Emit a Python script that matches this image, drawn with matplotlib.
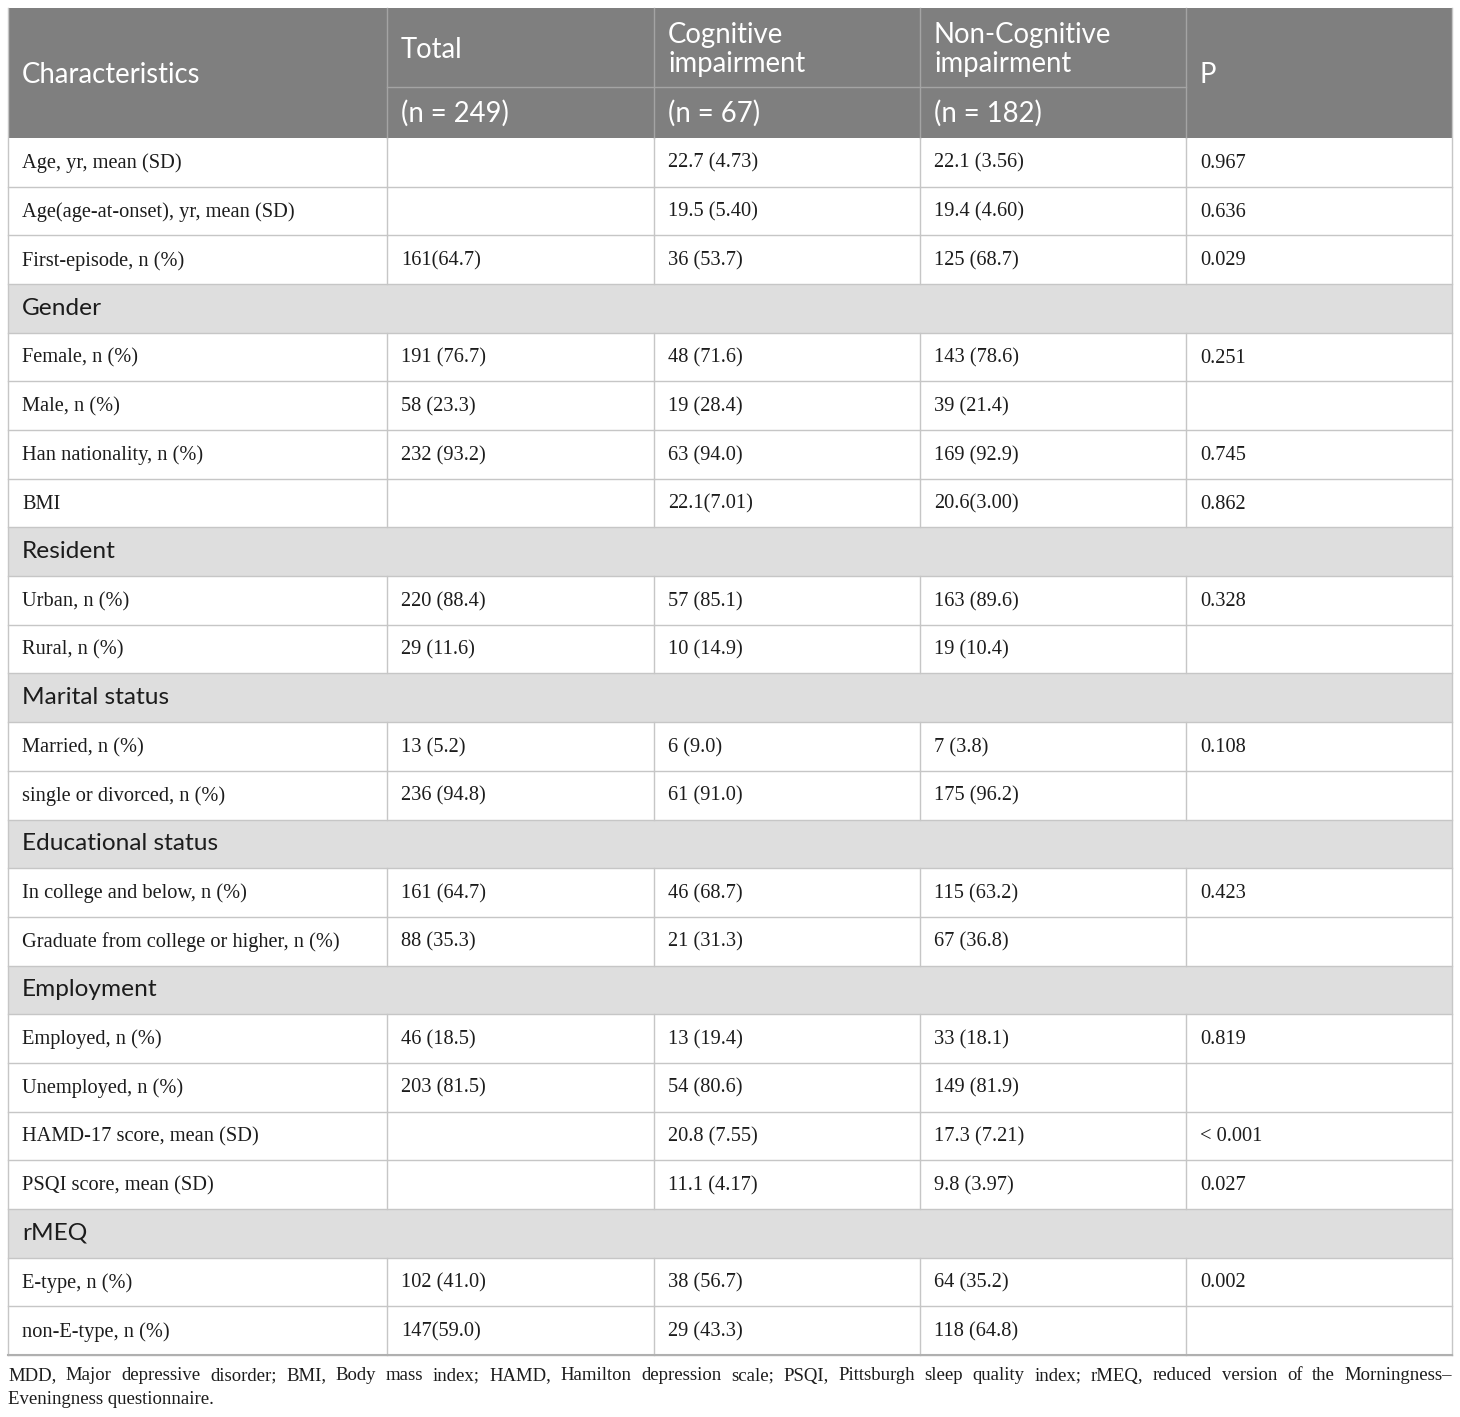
import matplotlib
matplotlib.use("Agg")
import matplotlib.pyplot as plt

# table contents
headers = ["Characteristics", "Total", "Cognitive\nimpairment", "Non-Cognitive\nimpairment", "P"]
header_n = ["", "(n = 249)", "(n = 67)", "(n = 182)", ""]

# None in the value columns marks a section row
rows = [
    ["Age, yr, mean (SD)", "", "22.7 (4.73)", "22.1 (3.56)", "0.967"],
    ["Age(age-at-onset), yr, mean (SD)", "", "19.5 (5.40)", "19.4 (4.60)", "0.636"],
    ["First-episode, n (%)", "161(64.7)", "36 (53.7)", "125 (68.7)", "0.029"],
    ["Gender", None, None, None, None],
    ["Female, n (%)", "191 (76.7)", "48 (71.6)", "143 (78.6)", "0.251"],
    ["Male, n (%)", "58 (23.3)", "19 (28.4)", "39 (21.4)", ""],
    ["Han nationality, n (%)", "232 (93.2)", "63 (94.0)", "169 (92.9)", "0.745"],
    ["BMI", "", "22.1(7.01)", "20.6(3.00)", "0.862"],
    ["Resident", None, None, None, None],
    ["Urban, n (%)", "220 (88.4)", "57 (85.1)", "163 (89.6)", "0.328"],
    ["Rural, n (%)", "29 (11.6)", "10 (14.9)", "19 (10.4)", ""],
    ["Marital status", None, None, None, None],
    ["Married, n (%)", "13 (5.2)", "6 (9.0)", "7 (3.8)", "0.108"],
    ["single or divorced, n (%)", "236 (94.8)", "61 (91.0)", "175 (96.2)", ""],
    ["Educational status", None, None, None, None],
    ["In college and below, n (%)", "161 (64.7)", "46 (68.7)", "115 (63.2)", "0.423"],
    ["Graduate from college or higher, n (%)", "88 (35.3)", "21 (31.3)", "67 (36.8)", ""],
    ["Employment", None, None, None, None],
    ["Employed, n (%)", "46 (18.5)", "13 (19.4)", "33 (18.1)", "0.819"],
    ["Unemployed, n (%)", "203 (81.5)", "54 (80.6)", "149 (81.9)", ""],
    ["HAMD-17 score, mean (SD)", "", "20.8 (7.55)", "17.3 (7.21)", "< 0.001"],
    ["PSQI score, mean (SD)", "", "11.1 (4.17)", "9.8 (3.97)", "0.027"],
    ["rMEQ", None, None, None, None],
    ["E-type, n (%)", "102 (41.0)", "38 (56.7)", "64 (35.2)", "0.002"],
    ["non-E-type, n (%)", "147(59.0)", "29 (43.3)", "118 (64.8)", ""],
]

footnote = ("MDD, Major depressive disorder; BMI, Body mass index; HAMD, Hamilton depression scale; "
            "PSQI, Pittsburgh sleep quality index; rMEQ, reduced version of the Morningness\u2013 "
            "Eveningness questionnaire.")

W, H = 1460, 1417
fig = plt.figure(figsize=(W / 100, H / 100), dpi=100)
ax = fig.add_axes([0, 0, 1, 1])
ax.set_xlim(0, W)
ax.set_ylim(H, 0)
ax.axis("off")

xs = [8, 387, 654, 920, 1186, 1452]
top, mid, hbot = 8, 87, 138
row_h = 48.68
pad = 14

head_bg = "#7f7f7f"
sec_bg = "#dedede"
line_c = "#c6c6c6"
txt_c = "#1c1c1c"
sans = "Lato"
serif = "Liberation Serif"

# header block
ax.add_patch(plt.Rectangle((xs[0], top), xs[-1] - xs[0], hbot - top, color=head_bg, lw=0))
for x in xs[1:-1]:
    ax.plot([x, x], [top, hbot], color="#a4a4a4", lw=1)
ax.plot([xs[1], xs[4]], [mid, mid], color="#a4a4a4", lw=1)

hs = 19.8
ax.text(xs[0] + pad, (top + hbot) / 2 + 2, headers[0], color="white", fontsize=hs,
        family=sans, va="center", ha="left")
ax.text(xs[4] + pad, (top + hbot) / 2 + 2, headers[4], color="white", fontsize=hs,
        family=sans, va="center", ha="left")
for i in range(1, 4):
    ax.text(xs[i] + pad, (top + mid) / 2 + 2, headers[i], color="white", fontsize=hs,
            family=sans, va="center", ha="left", linespacing=1.12)
    ax.text(xs[i] + pad, (mid + hbot) / 2 + 1, header_n[i], color="white", fontsize=hs,
            family=sans, va="center", ha="left")

# body
y = hbot
for r in rows:
    y0, y1 = y, y + row_h
    yc = (y0 + y1) / 2
    if r[1] is None:
        ax.add_patch(plt.Rectangle((xs[0], y0), xs[-1] - xs[0], row_h, color=sec_bg, lw=0))
        ax.text(xs[0] + pad, yc, r[0], fontsize=17.6, family=sans, color=txt_c,
                va="center", ha="left")
    else:
        for i in range(5):
            ax.text(xs[i] + pad, yc + 1, r[i], fontsize=14.7, family=serif, color=txt_c,
                    va="center", ha="left")
        for x in xs[1:-1]:
            ax.plot([x, x], [y0, y1], color=line_c, lw=1)
    ax.plot([xs[0], xs[-1]], [y1, y1], color=line_c, lw=1)
    y = y1

# outer border
ax.plot([xs[0], xs[0]], [top, y], color=line_c, lw=1)
ax.plot([xs[-1], xs[-1]], [top, y], color=line_c, lw=1)
ax.plot([xs[0], xs[-1]], [y, y], color="#b0b0b0", lw=1.5)

# footnote, first line justified to the table width
fig.canvas.draw()
renderer = fig.canvas.get_renderer()
words = footnote.split(" ")
first, second = words[:-2], words[-2:]
fy1, fy2 = y + 21, y + 44
fs = 13.5
objs = []
total_w = 0
for w_ in first:
    t = ax.text(0, fy1, w_, fontsize=fs, family=serif, color=txt_c, va="center", ha="left")
    bb = t.get_window_extent(renderer)
    objs.append((t, bb.width))
    total_w += bb.width
gap = (xs[-1] - xs[0] - total_w) / (len(first) - 1)
cx = xs[0]
for t, wd in objs:
    t.set_x(cx)
    cx += wd + gap
ax.text(xs[0], fy2, " ".join(second), fontsize=fs, family=serif,
        color=txt_c, va="center", ha="left")

fig.savefig("out.png", dpi=100)
